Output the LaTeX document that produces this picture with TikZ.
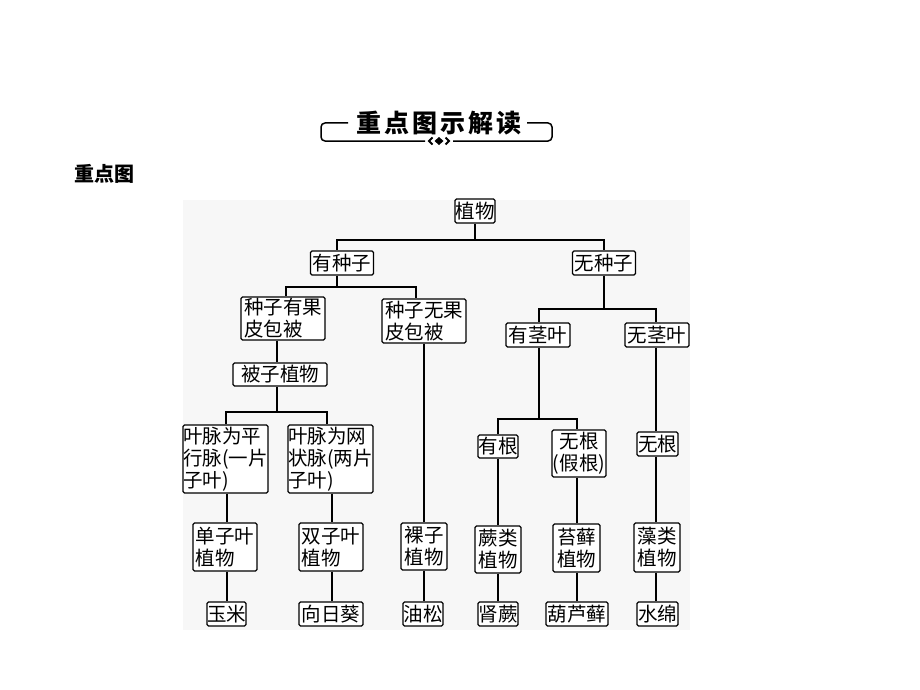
\documentclass[tikz,border=0pt]{standalone}
\usepackage{fontspec}
\newfontfamily\cjk{Noto Sans CJK SC}
\newfontfamily\cjkt[LetterSpace=12]{Noto Sans CJK SC}
\begin{document}
\begin{tikzpicture}[x=1pt,y=-1pt,
  bx/.style={draw, line width=1.2pt, rounded corners=1.5pt, inner sep=0pt, fill=white,
    font=\cjk\fontsize{19.5}{22}\selectfont, align=center},
  ln/.style={line width=1.2pt},
  frm/.style={line width=1.5pt}]
\useasboundingbox (0,0) rectangle (920,690);
\fill[white] (0,0) rectangle (920,690);
% textured background
\fill[black!3] (183,200) rectangle (690,630);
% title
\node (title) at (439,123) {\cjkt\bfseries\fontsize{25}{28}\selectfont 重点图示解读};
\draw[frm, rounded corners=4pt] (348,123) -- (321,123) -- (321,141) -- (425,141);
\draw[frm, rounded corners=4pt] (527,123) -- (552,123) -- (552,141) -- (453,141);
\fill (439,137) -- (443.5,141) -- (439,145) -- (434.5,141) -- cycle;
\draw[line width=2pt] (432.5,137.5) -- (429,141) -- (432.5,144.5);
\draw[line width=2pt] (445.5,137.5) -- (449,141) -- (445.5,144.5);
\node (sub) at (104,174) {\cjk\bfseries\fontsize{20}{22}\selectfont 重点图};
% nodes
\node[bx, minimum width=40pt, minimum height=24pt] (zw) at (475,211) {植物};
\node[bx, minimum width=63pt, minimum height=24pt] (yzz) at (342,263) {有种子};
\node[bx, minimum width=63pt, minimum height=24pt] (wzz) at (604,263) {无种子};
\node[bx, minimum width=84pt, minimum height=43pt, align=left] (a) at (283,318.5) {种子有果\\皮包被};
\node[bx, minimum width=84pt, minimum height=44pt, align=left] (b) at (424,321) {种子无果\\皮包被};
\node[bx, minimum width=64pt, minimum height=24pt] (yjy) at (538,335) {有茎叶};
\node[bx, minimum width=64pt, minimum height=24pt] (wjy) at (657,335) {无茎叶};
\node[bx, minimum width=94pt, minimum height=23pt] (bz) at (280,374.5) {被子植物};
\node[bx, minimum width=85pt, minimum height=68pt, align=left] (p) at (225.5,459) {叶脉为平\\行脉(一片\\子叶)};
\node[bx, minimum width=85pt, minimum height=68pt, align=left] (w) at (330.5,459) {叶脉为网\\状脉(两片\\子叶)};
\node[bx, minimum width=40pt, minimum height=23pt] (yg) at (498,446.5) {有根};
\node[bx, minimum width=54pt, minimum height=47pt] (wgj) at (579,453.5) {无根\\(假根)};
\node[bx, minimum width=41pt, minimum height=24pt] (wg) at (657.5,444) {无根};
\node[bx, minimum width=64pt, minimum height=48pt, align=left] (dzy) at (225,547) {单子叶\\植物};
\node[bx, minimum width=64pt, minimum height=48pt, align=left] (szy) at (331,547) {双子叶\\植物};
\node[bx, minimum width=46pt, minimum height=47pt] (lz) at (424,546.5) {裸子\\植物};
\node[bx, minimum width=46pt, minimum height=47pt] (jl) at (498,549.5) {蕨类\\植物};
\node[bx, minimum width=47pt, minimum height=48pt] (tx) at (576.5,548) {苔藓\\植物};
\node[bx, minimum width=46pt, minimum height=49pt] (zl) at (657,547.5) {藻类\\植物};
\node[bx, minimum width=39pt, minimum height=24pt] (ym) at (226.5,614) {玉米};
\node[bx, minimum width=64pt, minimum height=24pt] (xrk) at (331,614) {向日葵};
\node[bx, minimum width=40pt, minimum height=24pt] (ys) at (423,614) {油松};
\node[bx, minimum width=40pt, minimum height=24pt] (sj) at (498,614) {肾蕨};
\node[bx, minimum width=62pt, minimum height=24pt] (hlx) at (577,614) {葫芦藓};
\node[bx, minimum width=41pt, minimum height=24pt] (sm) at (657.5,614) {水绵};
% connectors
\draw[ln] (zw.south) |- (337,240) -- (yzz.north -| 337,0);
\draw[ln] (zw.south |- 0,240) -| (wzz.north);
\draw[ln] (yzz.south -| 337,0) |- (286,287) -- (a.north -| 286,0);
\draw[ln] (337,287) -| (b.north -| 416,0);
\draw[ln] (a.south -| 277,0) -- (bz.north -| 277,0);
\draw[ln] (bz.south -| 277,0) |- (226,412) -- (p.north -| 226,0);
\draw[ln] (277,412) -| (w.north -| 327,0);
\draw[ln] (p.south -| 227,0) -- (dzy.north -| 227,0);
\draw[ln] (dzy.south -| 227,0) -- (ym.north -| 227,0);
\draw[ln] (w.south -| 332,0) -- (szy.north -| 332,0);
\draw[ln] (szy.south -| 332,0) -- (xrk.north -| 332,0);
\draw[ln] (b.south) -- (lz.north);
\draw[ln] (lz.south) -- (ys.north -| lz.south);
\draw[ln] (wzz.south) |- (539,309) -- (yjy.north -| 539,0);
\draw[ln] (wzz.south |- 0,309) -| (wjy.north -| 656,0);
\draw[ln] (yjy.south -| 539,0) |- (498,419) -- (yg.north);
\draw[ln] (539,419) -| (wgj.north -| 577,0);
\draw[ln] (yg.south) -- (jl.north);
\draw[ln] (jl.south) -- (sj.north);
\draw[ln] (wgj.south -| 577,0) -- (tx.north -| 577,0);
\draw[ln] (tx.south -| 577,0) -- (hlx.north -| 577,0);
\draw[ln] (wjy.south -| 656,0) -- (wg.north -| 656,0);
\draw[ln] (wg.south -| 656,0) -- (zl.north -| 656,0);
\draw[ln] (zl.south -| 656,0) -- (sm.north -| 656,0);
\end{tikzpicture}
\end{document}
